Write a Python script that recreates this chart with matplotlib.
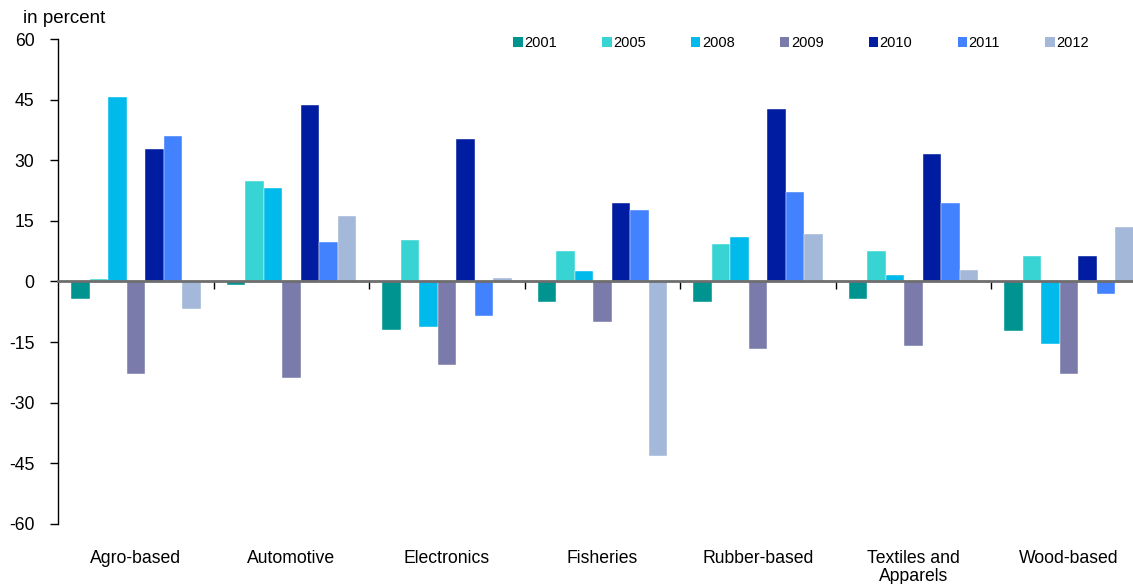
import numpy as np
import matplotlib
matplotlib.use("Agg")
import matplotlib.pyplot as plt
from matplotlib.patches import Patch

plt.rcParams['font.family'] = ['Liberation Sans', 'DejaVu Sans']
plt.rcParams['axes.unicode_minus'] = False

# categories and yearly values (in percent)
sectors = ['Agro-based', 'Automotive', 'Electronics', 'Fisheries',
           'Rubber-based', 'Textiles and\nApparels', 'Wood-based']
years = ['2001', '2005', '2008', '2009', '2010', '2011', '2012']

v2001 = [-4.4, -0.8, -12.1, -5.2, -5.2, -4.4, -12.3]
v2005 = [0.5, 24.9, 10.3, 7.5, 9.3, 7.5, 6.2]
v2008 = [45.7, 23.1, -11.2, 2.6, 11.1, 1.7, -15.4]
v2009 = [-22.8, -24.0, -20.6, -10.1, -16.8, -16.0, -23.0]
v2010 = [32.9, 43.6, 35.2, 19.5, 42.6, 31.6, 6.2]
v2011 = [36.0, 9.8, -8.6, 17.8, 22.2, 19.5, -3.1]
v2012 = [-6.8, 16.2, 0.8, -43.1, 11.8, 2.9, 13.6]

series = [v2001, v2005, v2008, v2009, v2010, v2011, v2012]
colors = ['#009490', '#38D3D3', '#00BAEB', '#7A7BAA', '#001CA0', '#4282FF', '#A4B8D9']

fig = plt.figure(figsize=(11.33, 5.84), dpi=100)
ax = fig.add_axes([0.0512, 0.103, 0.9488, 0.830])

x = np.arange(len(sectors))
w = 0.119
for i, vals in enumerate(series):
    ax.bar(x + (i - 3) * w, vals, width=w, color=colors[i],
           edgecolor='white', linewidth=0.3)

ax.set_xlim(-0.5, 6.41)
ax.set_ylim(-60, 60)
ax.set_yticks(np.arange(-60, 61, 15))
ax.tick_params(axis='y', direction='out', length=6, width=1, labelsize=12.7, pad=11)

for s in ['top', 'right']:
    ax.spines[s].set_visible(False)
ax.spines['left'].set_color('black')
ax.spines['left'].set_linewidth(1)

# zero line with group separator ticks
ax.spines['bottom'].set_position(('data', 0))
ax.spines['bottom'].set_color('#6e6e6e')
ax.spines['bottom'].set_linewidth(2)
ax.set_xticks(x[:-1] + 0.5)
ax.set_xticklabels([])
ax.tick_params(axis='x', direction='out', length=6, width=1, color='black')

# category labels at the bottom
sec = ax.secondary_xaxis(0)
sec.set_xticks(x)
sec.set_xticklabels(sectors, fontsize=12.7, linespacing=1.05)
sec.tick_params(length=0, pad=19)
sec.spines['bottom'].set_visible(False)

fig.text(0.02, 0.968, 'in percent', fontsize=13.5, va='center', ha='left')

handles = [Patch(facecolor=c, edgecolor='none') for c in colors]
fig.legend(handles, years, loc='center', bbox_to_anchor=(0.707, 0.926),
           ncol=7, frameon=False, fontsize=10.5, handlelength=0.65,
           handleheight=0.65, handletextpad=0.1, columnspacing=3.1)

fig.savefig('out.png', dpi=100)
